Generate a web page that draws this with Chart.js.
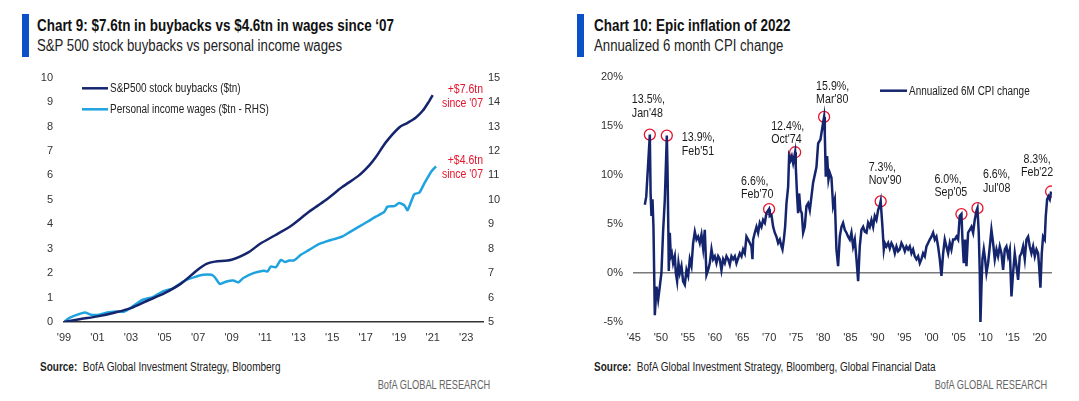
<!DOCTYPE html>
<html>
<head>
<meta charset="utf-8">
<script src="https://cdn.jsdelivr.net/npm/chart.js@4.4.1/dist/chart.umd.min.js"></script>
<style>
html,body{margin:0;padding:0;background:#fff;width:1079px;height:401px;overflow:hidden;}
body{position:relative;font-family:"Liberation Sans",Arial,sans-serif;color:#1a1a1a;}
.bar{position:absolute;top:14px;width:7px;height:43px;background:#0a50c8;}
.t{position:absolute;white-space:nowrap;transform-origin:0 0;}
.title{font-size:16px;line-height:16px;font-weight:bold;top:18px;color:#111;transform:scaleX(0.84);}
.sub{font-size:16px;line-height:16px;top:38px;color:#222;transform:scaleX(0.825);}
.src{font-size:12.5px;line-height:12.5px;top:361px;color:#222;transform:scaleX(0.8);}
.brand{font-size:12px;line-height:12px;top:379px;color:#666;transform:scaleX(0.77);transform-origin:100% 0;}
canvas{position:absolute;top:60px;}
</style>
</head>
<body>
<div class="bar" style="left:22px"></div>
<div class="t title" style="left:37px">Chart 9: $7.6tn in buybacks vs $4.6tn in wages since ‘07</div>
<div class="t sub" style="left:37px">S&amp;P 500 stock buybacks vs personal income wages</div>
<div class="t src" style="left:40px"><b>Source:</b>&nbsp; BofA Global Investment Strategy, Bloomberg</div>
<div class="t brand" style="right:589px">BofA GLOBAL RESEARCH</div>

<div class="bar" style="left:577px"></div>
<div class="t title" style="left:594px">Chart 10: Epic inflation of 2022</div>
<div class="t sub" style="left:594px">Annualized 6 month CPI change</div>
<div class="t src" style="left:594px"><b>Source:</b>&nbsp; BofA Global Investment Strategy, Bloomberg, Global Financial Data</div>
<div class="t brand" style="right:32px">BofA GLOBAL RESEARCH</div>

<canvas id="c9" width="540" height="295" style="left:0px"></canvas>
<canvas id="c10" width="539" height="295" style="left:540px"></canvas>

<script>
// ===== Chart 9 data =====
const buybackYears  = [1999.0,2000.0,2001.0,2002.0,2003.0,2004.0,2005.0,2006.0,2007.0,2007.5,2008.0,2009.0,2010.0,2010.7,2011.6,2012.6,2013.6,2014.6,2015.6,2016.6,2017.2,2017.6,2018.2,2019.0,2019.5,2020.0,2020.4,2020.8,2021.0];
const buybackValues = [0,0.12,0.23,0.38,0.57,0.88,1.18,1.58,2.15,2.38,2.47,2.55,2.85,3.2,3.55,3.96,4.5,4.98,5.52,6.0,6.4,6.74,7.35,7.96,8.15,8.37,8.64,9.05,9.28];
const wageYears  = [1999.0,1999.3,1999.8,2000.25,2000.6,2001.1,2001.6,2002.1,2002.6,2003.1,2003.7,2004.3,2004.9,2005.5,2006.3,2006.9,2007.3,2007.8,2008.0,2008.3,2008.7,2009.1,2009.4,2009.7,2010.3,2010.9,2011.14,2011.34,2011.64,2011.94,2012.2,2012.44,2012.73,2013.13,2013.63,2014.12,2014.62,2015.12,2015.62,2016.1,2016.6,2017.1,2017.6,2018.1,2018.3,2018.7,2019.0,2019.3,2019.5,2019.9,2020.2,2020.5,2020.9,2021.2];
const wageValues = [5.0,5.16,5.3,5.39,5.3,5.3,5.39,5.43,5.43,5.64,5.91,6.02,6.25,6.38,6.72,6.86,6.93,6.93,6.83,6.56,6.66,6.7,6.62,6.8,7.0,7.1,7.07,7.27,7.24,7.54,7.45,7.52,7.52,7.75,7.95,8.16,8.29,8.39,8.5,8.7,8.9,9.1,9.31,9.5,9.72,9.74,9.87,9.78,9.58,10.23,10.29,10.67,11.14,11.37];
const buybackXTicks  = [1999,2001,2003,2005,2007,2009,2011,2013,2015,2017,2019,2021,2023];
const buybackXLabels = ["'99","'01","'03","'05","'07","'09","'11","'13","'15","'17","'19","'21","'23"];
const seriesNames9 = ["S&P500 stock buybacks ($tn)","Personal income wages ($tn - RHS)"];
const endNotes9 = [["+$7.6tn","since '07"],["+$4.6tn","since '07"]];

// ===== Chart 10 data =====
const cpiYears = [1947.03,1947.3,1947.96,1948.1,1948.26,1948.45,1948.63,1948.88,1949.19,1949.5,1949.8,1950.1,1950.4,1950.73,1951.1,1951.22,1951.4,1951.46,1951.65,1951.83,1952.02,1952.26,1952.57,1952.76,1953.0,1953.25,1953.5,1953.8,1954.11,1954.42,1954.73,1955.04,1955.34,1955.65,1955.96,1956.27,1956.58,1956.88,1957.19,1957.5,1957.81,1958.11,1958.42,1958.73,1959.04,1959.35,1959.65,1959.96,1960.27,1960.58,1960.88,1961.19,1961.5,1961.81,1962.12,1962.42,1962.73,1963.04,1963.35,1963.66,1963.96,1964.27,1964.58,1964.89,1965.19,1965.5,1965.81,1966.12,1966.43,1966.73,1966.92,1967.04,1967.35,1967.66,1967.96,1968.27,1968.58,1968.89,1969.2,1969.5,1969.99,1970.12,1970.43,1970.74,1971.04,1971.35,1971.66,1971.97,1972.28,1972.46,1972.71,1972.95,1973.2,1973.51,1973.69,1973.94,1974.18,1974.43,1974.8,1974.92,1975.17,1975.35,1975.54,1975.79,1976.03,1976.28,1976.58,1976.89,1977.2,1977.51,1978.12,1978.74,1979.05,1979.48,1979.85,1980.15,1980.28,1980.46,1980.71,1980.96,1981.2,1981.51,1981.82,1982.13,1982.43,1982.74,1983.05,1983.36,1983.66,1983.97,1984.28,1984.59,1984.9,1985.2,1985.51,1985.82,1986.13,1986.44,1986.74,1987.05,1987.36,1987.67,1987.98,1988.28,1988.59,1988.9,1989.21,1989.51,1989.82,1990.13,1990.44,1990.6,1990.93,1991.18,1991.36,1991.67,1991.98,1992.28,1992.59,1992.9,1993.21,1993.52,1993.82,1994.13,1994.44,1994.75,1995.06,1995.36,1995.67,1995.98,1996.29,1996.59,1996.9,1997.21,1997.52,1997.83,1998.13,1998.44,1998.75,1999.06,1999.37,1999.67,1999.98,2000.29,2000.6,2000.9,2001.21,2001.52,2001.83,2002.14,2002.44,2002.75,2003.06,2003.37,2003.67,2003.98,2004.29,2004.6,2004.91,2005.21,2005.52,2005.71,2005.95,2006.2,2006.45,2006.75,2007.06,2007.37,2007.68,2007.98,2008.29,2008.48,2008.72,2008.91,2009.03,2009.22,2009.4,2009.65,2009.89,2010.14,2010.45,2010.76,2011.06,2011.37,2011.68,2011.99,2012.29,2012.6,2012.91,2013.22,2013.53,2013.83,2014.14,2014.45,2014.76,2015.06,2015.37,2015.68,2015.99,2016.3,2016.6,2016.91,2017.22,2017.53,2017.84,2018.14,2018.45,2018.76,2019.07,2019.38,2019.68,2019.87,2020.11,2020.36,2020.6,2020.91,2021.1,2021.35,2021.59,2021.84,2022.08];
const cpiValues = [6.95,7.8,14.1,8.1,5.8,7.5,4.7,-4.3,-1.4,-2.7,-1.4,0.0,4.1,7.5,14.0,10.8,3.4,0.2,4.1,1.7,2.0,1.0,1.7,0.0,-0.85,1.0,0.0,0.7,-0.85,-1.2,0.3,-0.3,1.4,0.7,3.05,4.2,3.4,3.7,3.05,3.9,2.5,4.4,-0.2,0.3,1.0,2.4,1.4,1.7,1.0,1.7,1.4,0.3,1.4,1.0,1.7,1.4,0.85,1.7,1.4,1.7,1.0,1.5,2.0,1.7,2.4,2.0,3.7,3.4,3.05,2.7,1.4,3.4,4.1,4.7,4.1,5.1,4.7,5.4,5.1,6.1,6.5,5.8,5.9,4.7,4.1,3.7,3.05,3.4,2.7,2.4,3.4,4.7,7.1,8.8,11.9,11.5,11.9,11.2,12.3,10.8,7.8,6.1,8.1,6.4,6.1,4.1,4.7,6.8,7.1,6.4,9.2,10.8,13.2,13.6,14.9,15.9,14.2,9.8,11.9,9.5,10.2,9.7,6.8,7.5,2.4,0.7,3.7,4.7,5.1,4.4,4.1,3.7,3.4,4.1,2.7,3.4,1.4,-0.85,2.7,4.4,4.7,4.2,4.1,5.1,4.7,5.4,4.7,5.8,5.4,6.4,6.9,7.3,4.7,2.4,3.05,2.7,3.05,2.5,3.05,2.7,2.0,2.7,2.2,2.4,3.05,2.7,2.2,2.7,2.4,2.7,2.0,2.4,1.7,1.4,1.7,1.0,1.4,2.0,1.7,2.7,3.05,3.4,3.7,4.1,3.4,3.7,2.7,1.4,-0.3,2.0,3.4,2.7,2.0,3.05,2.4,3.4,3.4,3.7,3.4,5.8,6.0,3.4,1.0,3.4,0.7,4.1,4.4,4.7,4.1,5.4,6.3,6.6,4.1,0.0,-5.1,-1.4,1.4,2.4,1.4,0.0,1.0,2.7,4.4,3.05,1.4,2.4,1.7,2.7,2.0,0.3,2.4,2.7,1.7,2.4,-2.4,0.0,2.0,0.7,-0.7,1.7,2.0,2.7,1.4,3.4,3.7,2.7,2.0,2.7,1.7,2.4,2.0,0.7,-1.5,2.0,3.7,3.4,5.8,7.5,7.8,7.5,8.3];
const cpiXTicks  = [1945,1950,1955,1960,1965,1970,1975,1980,1985,1990,1995,2000,2005,2010,2015,2020];
const cpiXLabels = ["'45","'50","'55","'60","'65","'70","'75","'80","'85","'90","'95","'00","'05","'10","'15","'20"];
const cpiSeriesName = "Annualized 6M CPI change";
const peakYears  = [1947.96,1951.1,1969.99,1974.8,1980.15,1990.6,2005.52,2008.48,2022.08];
const peakValues = [14.1,14.0,6.5,12.3,15.9,7.3,6.0,6.6,8.3];
const peakLabels = [["13.5%,","Jan'48"],["13.9%,","Feb'51"],["6.6%,","Feb'70"],["12.4%,","Oct'74"],["15.9%,","Mar'80"],["7.3%,","Nov'90"],["6.0%,","Sep'05"],["6.6%,","Jul'08"],["8.3%,","Feb'22"]];

// ===== styles =====
const FONT = '"Liberation Sans",Arial,sans-serif';
const NAVY = '#14256d', LIGHT = '#1fa3df', RED = '#e6142d', TICK = '#333';
const peakLabelStyle = [
  {dx:-18, dy:-35, align:'left'},
  {dx:15, dy:2, align:'left'},
  {dx:-28, dy:-28, align:'left'},
  {dx:-24, dy:-26, align:'left'},
  {dx:-8, dy:-31, align:'left'},
  {dx:-12, dy:-34, align:'left'},
  {dx:-27, dy:-35, align:'left'},
  {dx:5.5, dy:-33.5, align:'left'},
  {dx:-14, dy:-32.5, align:'center'}
];

Chart.defaults.font.family = FONT;
Chart.defaults.color = TICK;

function pts(xs, ys){ return xs.map((x,i)=>({x:x, y:ys[i]})); }

// draw horizontally condensed text on a canvas
function condText(ctx, text, x, y, align, sx){
  ctx.save();
  ctx.translate(x, y);
  ctx.scale(sx, 1);
  ctx.textAlign = align;
  ctx.fillText(text, 0, 0);
  ctx.restore();
}

const legendPlugin = {
  id: 'inlineLegend',
  afterDraw(chart, args, opts){
    const {ctx, chartArea} = chart;
    ctx.save();
    ctx.font = opts.fontSize + 'px ' + FONT;
    ctx.textBaseline = 'middle';
    let row = 0;
    chart.data.datasets.forEach(ds => {
      if (ds.noLegend) return;
      const y = chartArea.top + opts.dy + row * opts.rowGap;
      const x = chartArea.left + opts.dx;
      ctx.strokeStyle = ds.borderColor; ctx.lineWidth = 2.5;
      ctx.beginPath(); ctx.moveTo(x, y); ctx.lineTo(x + opts.lineLen, y); ctx.stroke();
      ctx.fillStyle = '#222';
      condText(ctx, ds.label, x + opts.lineLen + 2, y + 0.5, 'left', 0.83);
      row++;
    });
    ctx.restore();
  }
};

const endNotePlugin = {
  id: 'endNotes',
  afterDatasetsDraw(chart){
    const {ctx, chartArea} = chart;
    ctx.save();
    ctx.font = '12.5px ' + FONT;
    ctx.fillStyle = RED; ctx.textBaseline = 'middle';
    chart.data.datasets.forEach((ds, i) => {
      const meta = chart.getDatasetMeta(i);
      const last = meta.data[meta.data.length - 1];
      const lines = endNotes9[i];
      condText(ctx, lines[0], chartArea.right, last.y - 6, 'right', 0.84);
      condText(ctx, lines[1], chartArea.right, last.y + 8.5, 'right', 0.84);
    });
    ctx.restore();
  }
};

const peakLabelPlugin = {
  id: 'peakLabels',
  afterDatasetsDraw(chart){
    const {ctx} = chart;
    const meta = chart.getDatasetMeta(1);
    ctx.save();
    ctx.font = '13px ' + FONT;
    ctx.fillStyle = '#1a1a1a'; ctx.textBaseline = 'middle';
    meta.data.forEach((p, i) => {
      const st = peakLabelStyle[i];
      const lines = peakLabels[i];
      condText(ctx, lines[0], p.x + st.dx, p.y + st.dy, st.align, 0.82);
      condText(ctx, lines[1], p.x + st.dx, p.y + st.dy + 13.5, st.align, 0.82);
    });
    ctx.restore();
  }
};

function xTicksSetter(vals){ return s => { s.ticks = vals.map(v => ({value: v})); }; }

// ===== Chart 9 =====
new Chart(document.getElementById('c9'), {
  type: 'line',
  data: {
    datasets: [
      {label: seriesNames9[0], data: pts(buybackYears, buybackValues), yAxisID: 'y', borderColor: NAVY, borderWidth: 2.5, pointRadius: 0, tension: 0.3},
      {label: seriesNames9[1], data: pts(wageYears, wageValues), yAxisID: 'y2', borderColor: LIGHT, borderWidth: 2.5, pointRadius: 0, tension: 0.2}
    ]
  },
  options: {
    responsive: false, animation: false, events: [],
    layout: {padding: {top: 16, left: 0, right: 0, bottom: 0}},
    plugins: {legend: {display: false}, tooltip: {enabled: false},
      inlineLegend: {dx: 18, dy: 10.7, rowGap: 21, lineLen: 26, fontSize: 12}},
    scales: {
      x: {type: 'linear', min: 1999, max: 2024,
        afterBuildTicks: xTicksSetter(buybackXTicks),
        afterFit: s => { s.height = 33; },
        grid: {display: false, drawTicks: false},
        border: {display: true, color: '#333', width: 1.5},
        ticks: {autoSkip: false, maxRotation: 0, padding: 9, font: {size: 11},
          callback: (v) => buybackXLabels[buybackXTicks.indexOf(v)]}},
      y: {position: 'left', min: 0, max: 10,
        afterFit: s => { s.width = 64; },
        grid: {display: false, drawTicks: false}, border: {display: false},
        ticks: {stepSize: 1, padding: 11, font: {size: 11}}},
      y2: {position: 'right', min: 5, max: 15,
        afterFit: s => { s.width = 57; },
        grid: {display: false, drawTicks: false}, border: {display: false},
        ticks: {stepSize: 1, padding: 5, font: {size: 11}}}
    }
  },
  plugins: [legendPlugin, endNotePlugin]
});

// ===== Chart 10 =====
new Chart(document.getElementById('c10'), {
  type: 'line',
  data: {
    datasets: [
      {label: cpiSeriesName, data: pts(cpiYears, cpiValues), borderColor: NAVY, borderWidth: 2.5, pointRadius: 0, tension: 0},
      {label: 'peaks', noLegend: true, data: pts(peakYears, peakValues), showLine: false,
        pointRadius: 5.5, pointStyle: 'circle', pointBorderColor: RED, pointBackgroundColor: 'rgba(0,0,0,0)', pointBorderWidth: 1.3, borderColor: RED}
    ]
  },
  options: {
    responsive: false, animation: false, events: [],
    layout: {padding: {top: 16.7, left: 0, right: 27, bottom: 0}},
    plugins: {legend: {display: false}, tooltip: {enabled: false},
      inlineLegend: {dx: 247, dy: 14, rowGap: 21, lineLen: 27, fontSize: 12}},
    scales: {
      x: {type: 'linear', min: 1944.85, max: 2022.25,
        afterBuildTicks: xTicksSetter(cpiXTicks),
        afterFit: s => { s.height = 33; },
        grid: {display: false, drawTicks: false}, border: {display: false},
        ticks: {autoSkip: false, maxRotation: 0, padding: 9, font: {size: 11},
          callback: (v) => cpiXLabels[cpiXTicks.indexOf(v)]}},
      y: {min: -5, max: 20,
        afterFit: s => { s.width = 93; },
        grid: {drawTicks: false, lineWidth: 1.5, color: c => (c.tick && c.tick.value === 0) ? '#7a7a7a' : 'rgba(0,0,0,0)'},
        border: {display: false},
        ticks: {stepSize: 5, padding: 10, font: {size: 11}, callback: v => v + '%'}}
    }
  },
  plugins: [legendPlugin, peakLabelPlugin]
});
</script>
</body>
</html>
